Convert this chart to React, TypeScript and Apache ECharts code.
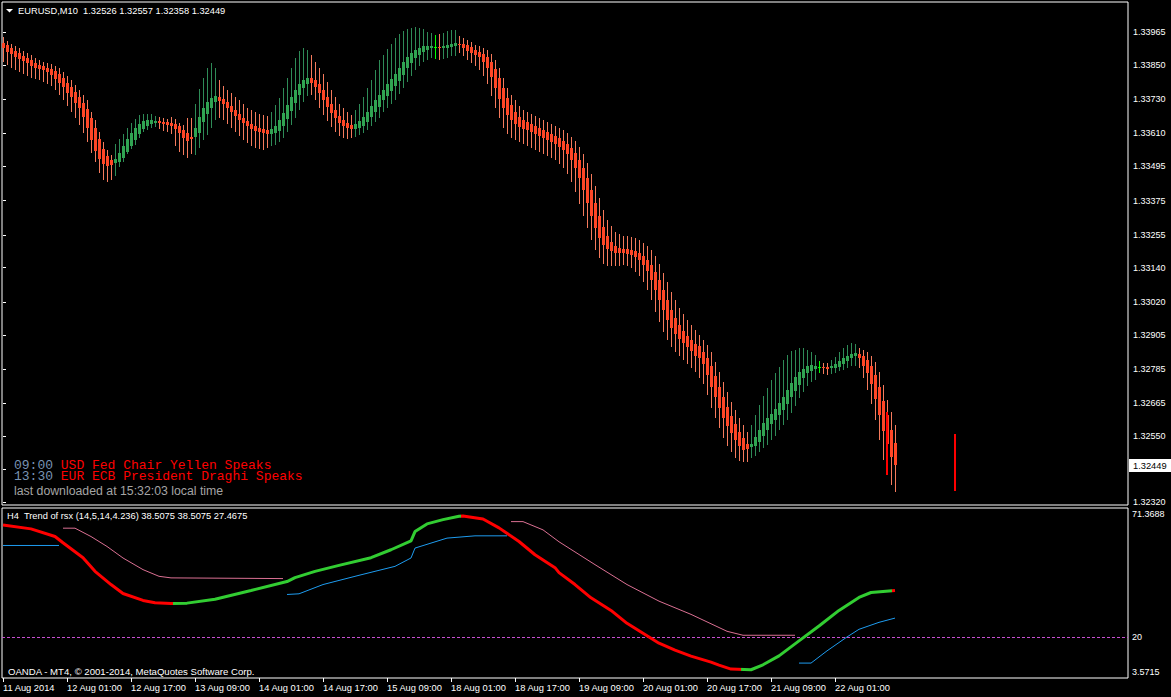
import React, { useEffect, useRef } from "react";
import * as echarts from "echarts";

// ---------- data ----------
const symbolName = "EURUSD,M10";
const headerOHLC = [1.32526, 1.32557, 1.32358, 1.32449];
const priceTicks = [1.33965, 1.3385, 1.3373, 1.3361, 1.33495, 1.33375, 1.33255, 1.3314, 1.3302, 1.32905, 1.32785, 1.32665, 1.3255, 1.32435, 1.3232];
const timeTickIndex = [0, 16, 32, 48, 64, 80, 96, 112, 128, 144, 160, 176, 192, 208];
const timeLabels = ["11 Aug 2014", "12 Aug 01:00", "12 Aug 17:00", "13 Aug 09:00", "14 Aug 01:00", "14 Aug 17:00", "15 Aug 09:00", "18 Aug 01:00", "18 Aug 17:00", "19 Aug 09:00", "20 Aug 01:00", "20 Aug 17:00", "21 Aug 09:00", "22 Aug 01:00"];

const open = [1.33927,1.33920,1.33909,1.33899,1.33892,1.33881,1.33874,1.33867,1.33857,1.33850,
1.33846,1.33839,1.33836,1.33829,1.33818,1.33804,1.33787,1.33773,1.33755,1.33738,
1.33717,1.33696,1.33664,1.33629,1.33591,1.33556,1.33531,1.33517,1.33507,1.33510,
1.33524,1.33545,1.33566,1.33587,1.33608,1.33626,1.33636,1.33643,1.33647,1.33654,
1.33650,1.33650,1.33647,1.33643,1.33636,1.33622,1.33612,1.33598,1.33598,1.33612,
1.33650,1.33678,1.33699,1.33720,1.33738,1.33731,1.33720,1.33706,1.33692,1.33678,
1.33664,1.33654,1.33643,1.33636,1.33629,1.33626,1.33622,1.33608,1.33612,1.33619,
1.33636,1.33661,1.33689,1.33717,1.33745,1.33769,1.33783,1.33804,1.33797,1.33783,
1.33762,1.33738,1.33713,1.33692,1.33671,1.33657,1.33647,1.33640,1.33626,1.33629,
1.33636,1.33650,1.33668,1.33685,1.33703,1.33727,1.33741,1.33759,1.33776,1.33794,
1.33815,1.33839,1.33857,1.33874,1.33885,1.33895,1.33902,1.33909,1.33913,1.33913,
1.33909,1.33909,1.33913,1.33916,1.33923,1.33923,1.33920,1.33913,1.33902,1.33895,
1.33888,1.33878,1.33860,1.33836,1.33804,1.33769,1.33734,1.33710,1.33685,1.33668,
1.33657,1.33650,1.33643,1.33636,1.33629,1.33622,1.33615,1.33608,1.33601,1.33594,
1.33584,1.33573,1.33559,1.33542,1.33517,1.33489,1.33454,1.33412,1.33367,1.33321,
1.33283,1.33251,1.33230,1.33216,1.33209,1.33206,1.33206,1.33202,1.33199,1.33192,
1.33181,1.33167,1.33150,1.33125,1.33097,1.33062,1.33027,1.32992,1.32964,1.32940,
1.32919,1.32901,1.32887,1.32873,1.32866,1.32845,1.32824,1.32796,1.32761,1.32723,
1.32688,1.32653,1.32621,1.32593,1.32565,1.32544,1.32523,1.32513,1.32516,1.32530,
1.32551,1.32572,1.32593,1.32607,1.32625,1.32642,1.32663,1.32688,1.32709,1.32730,
1.32754,1.32772,1.32779,1.32786,1.32793,1.32793,1.32793,1.32789,1.32789,1.32793,
1.32803,1.32814,1.32824,1.32831,1.32838,1.32831,1.32817,1.32796,1.32765,1.32723,
1.32674,1.32625,1.32572,1.32527];

const high = [1.33948,1.33934,1.33923,1.33916,1.33909,1.33899,1.33892,1.33885,1.33874,1.33867,
1.33860,1.33857,1.33853,1.33846,1.33839,1.33825,1.33811,1.33797,1.33780,1.33762,
1.33745,1.33727,1.33685,1.33657,1.33615,1.33580,1.33552,1.33535,1.33573,1.33591,
1.33608,1.33629,1.33647,1.33661,1.33675,1.33678,1.33678,1.33678,1.33671,1.33668,
1.33664,1.33661,1.33668,1.33661,1.33647,1.33640,1.33664,1.33664,1.33713,1.33766,
1.33804,1.33839,1.33857,1.33839,1.33797,1.33776,1.33762,1.33752,1.33738,1.33727,
1.33713,1.33699,1.33692,1.33685,1.33678,1.33675,1.33671,1.33685,1.33710,1.33734,
1.33769,1.33804,1.33839,1.33874,1.33899,1.33909,1.33902,1.33885,1.33860,1.33839,
1.33818,1.33790,1.33762,1.33738,1.33713,1.33699,1.33685,1.33675,1.33692,1.33713,
1.33738,1.33769,1.33797,1.33832,1.33867,1.33885,1.33906,1.33923,1.33944,1.33958,
1.33969,1.33976,1.33979,1.33983,1.33979,1.33976,1.33965,1.33962,1.33955,1.33958,
1.33962,1.33969,1.33972,1.33972,1.33951,1.33944,1.33937,1.33930,1.33920,1.33916,
1.33909,1.33902,1.33888,1.33867,1.33839,1.33804,1.33769,1.33745,1.33727,1.33706,
1.33692,1.33685,1.33678,1.33671,1.33664,1.33657,1.33650,1.33643,1.33636,1.33629,
1.33622,1.33612,1.33598,1.33584,1.33563,1.33538,1.33507,1.33468,1.33426,1.33384,
1.33342,1.33307,1.33286,1.33265,1.33258,1.33251,1.33251,1.33248,1.33244,1.33237,
1.33227,1.33216,1.33202,1.33181,1.33153,1.33122,1.33090,1.33055,1.33027,1.32999,
1.32978,1.32957,1.32940,1.32922,1.32905,1.32887,1.32870,1.32845,1.32810,1.32775,
1.32740,1.32705,1.32670,1.32642,1.32614,1.32590,1.32565,1.32590,1.32625,1.32660,
1.32691,1.32719,1.32747,1.32772,1.32793,1.32817,1.32835,1.32849,1.32852,1.32859,
1.32859,1.32852,1.32845,1.32835,1.32814,1.32807,1.32807,1.32817,1.32828,1.32845,
1.32859,1.32870,1.32877,1.32873,1.32859,1.32852,1.32845,1.32831,1.32810,1.32775,
1.32730,1.32677,1.32635,1.32590];

const low = [1.33860,1.33850,1.33839,1.33832,1.33825,1.33818,1.33811,1.33804,1.33801,1.33797,
1.33790,1.33783,1.33776,1.33762,1.33745,1.33727,1.33706,1.33685,1.33664,1.33640,
1.33612,1.33580,1.33542,1.33510,1.33472,1.33447,1.33440,1.33447,1.33461,1.33493,
1.33510,1.33538,1.33556,1.33570,1.33594,1.33615,1.33622,1.33629,1.33633,1.33626,
1.33619,1.33615,1.33608,1.33566,1.33545,1.33535,1.33524,1.33538,1.33535,1.33559,
1.33587,1.33605,1.33629,1.33657,1.33664,1.33657,1.33643,1.33629,1.33615,1.33601,
1.33587,1.33577,1.33566,1.33559,1.33556,1.33552,1.33559,1.33566,1.33570,1.33580,
1.33594,1.33615,1.33640,1.33664,1.33692,1.33720,1.33741,1.33745,1.33727,1.33699,
1.33675,1.33654,1.33633,1.33615,1.33601,1.33594,1.33591,1.33594,1.33598,1.33605,
1.33612,1.33622,1.33636,1.33650,1.33664,1.33685,1.33699,1.33713,1.33727,1.33748,
1.33769,1.33790,1.33811,1.33832,1.33846,1.33860,1.33867,1.33874,1.33871,1.33867,
1.33871,1.33874,1.33881,1.33881,1.33892,1.33881,1.33867,1.33857,1.33846,1.33832,
1.33811,1.33783,1.33741,1.33699,1.33664,1.33629,1.33608,1.33594,1.33587,1.33580,
1.33573,1.33566,1.33559,1.33552,1.33545,1.33538,1.33531,1.33524,1.33517,1.33503,
1.33489,1.33468,1.33440,1.33405,1.33363,1.33321,1.33279,1.33237,1.33202,1.33174,
1.33153,1.33146,1.33146,1.33146,1.33146,1.33150,1.33146,1.33139,1.33125,1.33111,
1.33090,1.33062,1.33027,1.32985,1.32950,1.32915,1.32887,1.32863,1.32845,1.32831,
1.32817,1.32803,1.32789,1.32775,1.32754,1.32733,1.32695,1.32649,1.32614,1.32579,
1.32544,1.32516,1.32495,1.32474,1.32464,1.32460,1.32460,1.32474,1.32481,1.32495,
1.32509,1.32520,1.32537,1.32551,1.32572,1.32590,1.32607,1.32632,1.32656,1.32684,
1.32705,1.32726,1.32740,1.32747,1.32772,1.32768,1.32765,1.32768,1.32772,1.32779,
1.32782,1.32789,1.32796,1.32796,1.32789,1.32754,1.32712,1.32663,1.32607,1.32537,
1.32467,1.32432,1.32380,1.32355];

const close = [1.33909,1.33895,1.33888,1.33878,1.33871,1.33864,1.33857,1.33846,1.33839,1.33836,
1.33832,1.33825,1.33815,1.33801,1.33787,1.33773,1.33752,1.33738,1.33717,1.33699,
1.33668,1.33629,1.33587,1.33549,1.33521,1.33503,1.33496,1.33500,1.33521,1.33542,
1.33566,1.33591,1.33612,1.33629,1.33643,1.33654,1.33657,1.33657,1.33654,1.33647,
1.33643,1.33640,1.33636,1.33626,1.33612,1.33594,1.33584,1.33591,1.33629,1.33668,
1.33699,1.33720,1.33734,1.33741,1.33724,1.33713,1.33699,1.33685,1.33671,1.33657,
1.33647,1.33636,1.33626,1.33619,1.33615,1.33612,1.33608,1.33626,1.33636,1.33657,
1.33682,1.33710,1.33738,1.33762,1.33783,1.33797,1.33804,1.33787,1.33773,1.33752,
1.33727,1.33703,1.33682,1.33664,1.33647,1.33636,1.33629,1.33626,1.33643,1.33654,
1.33668,1.33685,1.33706,1.33727,1.33745,1.33762,1.33783,1.33801,1.33818,1.33839,
1.33860,1.33878,1.33892,1.33902,1.33909,1.33916,1.33916,1.33916,1.33913,1.33909,
1.33916,1.33920,1.33923,1.33927,1.33920,1.33909,1.33899,1.33892,1.33885,1.33878,
1.33860,1.33839,1.33808,1.33769,1.33731,1.33699,1.33675,1.33657,1.33643,1.33633,
1.33626,1.33622,1.33615,1.33608,1.33601,1.33594,1.33587,1.33580,1.33573,1.33563,
1.33552,1.33538,1.33517,1.33489,1.33454,1.33412,1.33367,1.33321,1.33279,1.33244,
1.33220,1.33206,1.33199,1.33192,1.33192,1.33192,1.33188,1.33185,1.33178,1.33167,
1.33150,1.33129,1.33097,1.33062,1.33027,1.32992,1.32957,1.32929,1.32908,1.32891,
1.32877,1.32863,1.32849,1.32831,1.32824,1.32803,1.32765,1.32723,1.32688,1.32649,
1.32614,1.32586,1.32562,1.32537,1.32516,1.32502,1.32506,1.32523,1.32548,1.32572,
1.32597,1.32614,1.32628,1.32646,1.32667,1.32688,1.32712,1.32737,1.32758,1.32775,
1.32786,1.32796,1.32800,1.32796,1.32793,1.32789,1.32786,1.32796,1.32803,1.32814,
1.32824,1.32831,1.32838,1.32842,1.32824,1.32796,1.32772,1.32733,1.32681,1.32625,
1.32569,1.32523,1.32478,1.32449];

// plain red bars (bar index, high, low)
const rawBars = [[221, 1.32635, 1.32415], [238, 1.32557, 1.32358]];

// indicator: Trend of rsx
const rsxHeader = [38.5075, 38.5075, 27.4675];
const rsxAxisValues = [3.5715, 20, 71.3688];
const levelValue = 20;
const trendLine = [[0,64.63],[7,63.04],[13,59.99],[15,57.49],[20,51.55],[23,46.11],[27,40.84],[30,37.27],[35,34.5],[38,33.58],[42,33.31],[46,33.43],[53,35.01],[62,38.46],[71,42.03],[73,43.62],[78,46.11],[84,48.49],[92,51.55],[97,54.72],[102,58.28],[103,61.97],[106,65.03],[110,66.73],[114,68.08],[115,68.2],[120,67.0],[124,63.44],[129,58.01],[133,52.73],[138,47.58],[139,45.6],[143,40.84],[147,35.56],[152,30.53],[156,25.38],[160,21.41],[164,17.45],[168,14.67],[172,12.29],[177,9.91],[179,8.73],[182,7.14],[187,6.86],[190,8.84],[194,12.41],[199,18.36],[204,24.31],[209,30.53],[214,35.69],[217,37.67],[223,38.5075]];
const trendTurns = [42.5, 114.5, 184.5, 222.3];
const upperSegments = [
  [[15,63.32],[18,63.32],[22,59.99],[26,56.03],[30,51.43],[35,46.79],[39,44.13],[42,43.5],[70,43.22]],
  [[127,65.94],[130,65.94],[135,62.65],[139,57.9],[148,48.77],[156,40.84],[164,34.22],[172,28.95],[181,22.2],[185,20.62],[198,20.62]],
];
const lowerSegments = [
  [[0,56.42],[14,56.42]],
  [[71,36.88],[74,37.15],[80,40.84],[89,44.53],[98,48.1],[102,51.43],[103,55.39],[111,59.36],[118,60.27],[126,60.27]],
  [[199,9.52],[202,9.52],[206,14.39],[211,19.94],[214,22.99],[219,25.77],[223,27.4675]],
];

const news = [
  { time: "09:00", text: "USD Fed Chair Yellen Speaks" },
  { time: "13:30", text: "EUR ECB President Draghi Speaks" },
];
const downloadedAt = "15:32:03";

// ---------- styles ----------
const SANS = "'Liberation Sans', Arial, sans-serif";
const MONO = "'Liberation Mono', 'Courier New', monospace";
const RED = "#FF0000";
const LIME = "#32CD32";
const FS = 9.3;

const candleData = open.map((o, i) => [i, o, close[i], low[i], high[i]]);

function renderCandle(params: any, api: any) {
  const i = api.value(0);
  const o = api.value(1), c = api.value(2), l = api.value(3), h = api.value(4);
  const pTop = api.coord([i, Math.max(o, c)]);
  const pBot = api.coord([i, Math.min(o, c)]);
  const pH = api.coord([i, h]);
  const pL = api.coord([i, l]);
  const x = Math.round(pTop[0]);
  const doji = o === c;
  const up = c > o;
  const wick = doji ? "#00FF00" : up ? "#2E8B57" : "#F57A5C";
  const body = up ? "#30A452" : "#FF4626";
  const y1 = Math.round(pTop[1]);
  const y2 = Math.round(pBot[1]);
  const children: any[] = [
    { type: "line", shape: { x1: x + 0.5, y1: Math.round(pH[1]), x2: x + 0.5, y2: Math.round(pL[1]) }, style: { stroke: wick, lineWidth: 1 } },
  ];
  if (doji) {
    children.push({ type: "line", shape: { x1: x - 1, y1: y1 + 0.5, x2: x + 2, y2: y1 + 0.5 }, style: { stroke: "#00FF00", lineWidth: 1 } });
  } else {
    children.push({ type: "rect", shape: { x: x - 1, y: y1, width: 3, height: Math.max(1, y2 - y1) }, style: { fill: body } });
  }
  return { type: "group", children };
}

function renderRawBar(params: any, api: any) {
  const i = api.value(0);
  const pH = api.coord([i, api.value(1)]);
  const pL = api.coord([i, api.value(2)]);
  const x = Math.round(pH[0]);
  return { type: "rect", shape: { x: x - 1, y: Math.round(pH[1]), width: 2, height: Math.round(pL[1]) - Math.round(pH[1]) }, style: { fill: RED } };
}

function renderPriceTag(params: any, api: any) {
  const v = api.value(1);
  const p = api.coord([api.value(0), v]);
  const cs = params.coordSys;
  const right = cs.x + cs.width;
  const y = Math.round(p[1]);
  return {
    type: "group",
    children: [
      { type: "rect", shape: { x: right + 1, y: y - 6, width: 43, height: 13 }, style: { fill: "#FFFFFF" } },
      { type: "text", style: { text: v.toFixed(5), x: right + 5, y: y + 0.5, fill: "#000000", font: FS + "px " + SANS, textVerticalAlign: "middle", verticalAlign: "middle", align: "left" } },
    ],
  };
}

const xMin = -0.25;
const xMax = 281.25;

const option: any = {
  animation: false,
  backgroundColor: "#000000",
  grid: [
    { left: 2, top: 2, width: 1126, height: 503, show: true, borderColor: "#FFFFFF", borderWidth: 1, backgroundColor: "transparent" },
    { left: 2, top: 508, width: 1126, height: 170, show: true, borderColor: "#FFFFFF", borderWidth: 1, backgroundColor: "transparent" },
  ],
  xAxis: [
    { type: "value", gridIndex: 0, min: xMin, max: xMax, show: false },
    {
      type: "value", gridIndex: 1, min: xMin, max: xMax,
      axisLine: { show: false }, splitLine: { show: false },
      axisTick: { show: true, length: 4, customValues: timeTickIndex, lineStyle: { color: "#FFFFFF" } },
      axisLabel: {
        customValues: timeTickIndex,
        formatter: (v: number) => timeLabels[Math.round(v / 16)] ?? "",
        align: "left", color: "#FFFFFF", fontSize: FS, fontFamily: SANS, margin: 5,
      },
    },
  ],
  yAxis: [
    {
      type: "value", gridIndex: 0, position: "right", min: 1.323095, max: 1.3407,
      axisLine: { show: false }, splitLine: { show: false },
      axisTick: { show: true, length: 3, customValues: priceTicks, lineStyle: { color: "#FFFFFF" } },
      axisLabel: { customValues: priceTicks, formatter: (v: number) => v.toFixed(5), color: "#FFFFFF", fontSize: 9, fontFamily: SANS, margin: 5 },
    },
    {
      type: "value", gridIndex: 1, position: "right", min: rsxAxisValues[0], max: rsxAxisValues[2],
      axisLine: { show: false }, splitLine: { show: false }, axisTick: { show: false },
      axisLabel: {
        customValues: rsxAxisValues,
        formatter: (v: number) => (v > 70 ? "{t|" + v.toFixed(4) + "}" : v < 5 ? "{b|" + v.toFixed(4) + "}" : String(v)),
        color: "#FFFFFF", fontSize: 9, fontFamily: SANS, margin: 4,
        rich: {
          t: { padding: [12, 0, 0, 0], color: "#FFFFFF", fontSize: 9, fontFamily: SANS },
          b: { padding: [0, 0, 12, 0], color: "#FFFFFF", fontSize: 9, fontFamily: SANS },
        },
      },
    },
  ],
  visualMap: [
    {
      show: false, type: "piecewise", seriesIndex: 3, dimension: 0,
      pieces: [
        { lt: trendTurns[0], color: RED },
        { gte: trendTurns[0], lt: trendTurns[1], color: LIME },
        { gte: trendTurns[1], lt: trendTurns[2], color: RED },
        { gte: trendTurns[2], lt: trendTurns[3], color: LIME },
        { gte: trendTurns[3], color: RED },
      ],
    },
  ],
  series: [
    {
      type: "custom", name: "candles", xAxisIndex: 0, yAxisIndex: 0,
      data: candleData, encode: { x: 0, y: [1, 2, 3, 4] }, renderItem: renderCandle, silent: true, z: 3,
    },
    {
      type: "custom", name: "bars", xAxisIndex: 0, yAxisIndex: 0,
      data: rawBars, encode: { x: 0, y: [1, 2] }, renderItem: renderRawBar, silent: true, z: 4,
    },
    {
      type: "custom", name: "bid", xAxisIndex: 0, yAxisIndex: 0, clip: false,
      data: [[candleData.length - 1, headerOHLC[3]]], encode: { x: 0, y: 1 }, renderItem: renderPriceTag, silent: true, z: 10,
    },
    {
      type: "line", name: "trend", xAxisIndex: 1, yAxisIndex: 1,
      data: trendLine, symbol: "none", lineStyle: { width: 3 }, silent: true, z: 5,
    },
    ...upperSegments.map((seg) => ({
      type: "line", xAxisIndex: 1, yAxisIndex: 1, data: seg, symbol: "none",
      lineStyle: { width: 1, color: "#DB7093" }, silent: true, z: 4,
    })),
    ...lowerSegments.map((seg) => ({
      type: "line", xAxisIndex: 1, yAxisIndex: 1, data: seg, symbol: "none",
      lineStyle: { width: 1, color: "#1E9CF0" }, silent: true, z: 4,
    })),
    {
      type: "line", name: "level", xAxisIndex: 1, yAxisIndex: 1, data: [], silent: true,
      markLine: {
        silent: true, symbol: ["none", "none"], data: [{ yAxis: levelValue }],
        lineStyle: { color: "#C64FD0", type: [3, 2], width: 1 }, label: { show: false },
      },
      z: 2,
    },
  ],
  graphic: [
    { type: "polygon", shape: { points: [[6, 9], [13, 9], [9.5, 12.5]] }, style: { fill: "#FFFFFF" } },
    {
      type: "text", x: 18, y: 10.5,
      style: { text: symbolName + "  " + headerOHLC.map((v) => v.toFixed(5)).join(" "), fill: "#FFFFFF", font: FS + "px " + SANS, textVerticalAlign: "middle", verticalAlign: "middle" },
    },
    ...news.map((n, k) => ({
      type: "text", x: 14, y: 465.5 + k * 11,
      style: {
        text: "{t|" + n.time + "} {e|" + n.text + "}",
        font: "13px " + MONO, fill: "#FF0000", lineHeight: 10, textVerticalAlign: "middle", verticalAlign: "middle",
        rich: {
          t: { fill: "#7893B3", font: "13px " + MONO, lineHeight: 10 },
          e: { fill: "#FF0000", font: "13px " + MONO, lineHeight: 10 },
        },
      },
    })),
    {
      type: "text", x: 14, y: 490.5,
      style: { text: "last downloaded at " + downloadedAt + " local time", fill: "#A4A4A4", font: "12.3px " + SANS, textVerticalAlign: "middle", verticalAlign: "middle" },
    },
    {
      type: "text", x: 7, y: 516,
      style: { text: "H4  Trend of rsx (14,5,14,4.236) " + rsxHeader.map((v) => v.toFixed(4)).join(" "), fill: "#FFFFFF", font: FS + "px " + SANS, textVerticalAlign: "middle", verticalAlign: "middle" },
    },
    {
      type: "text", x: 8, y: 671,
      style: { text: "OANDA - MT4, © 2001-2014, MetaQuotes Software Corp.", fill: "#FFFFFF", font: "9.6px " + SANS, textVerticalAlign: "middle", verticalAlign: "middle" },
    },
  ],
};

export default function App() {
  const ref = useRef<HTMLDivElement>(null);
  useEffect(() => {
    document.body.style.margin = "0";
    document.body.style.background = "#000000";
    const chart = echarts.init(ref.current as HTMLDivElement, null, { renderer: "svg", width: 1171, height: 697 });
    chart.setOption(option);
    return () => chart.dispose();
  }, []);
  return <div ref={ref} style={{ width: 1171, height: 697, background: "#000000" }} />;
}
